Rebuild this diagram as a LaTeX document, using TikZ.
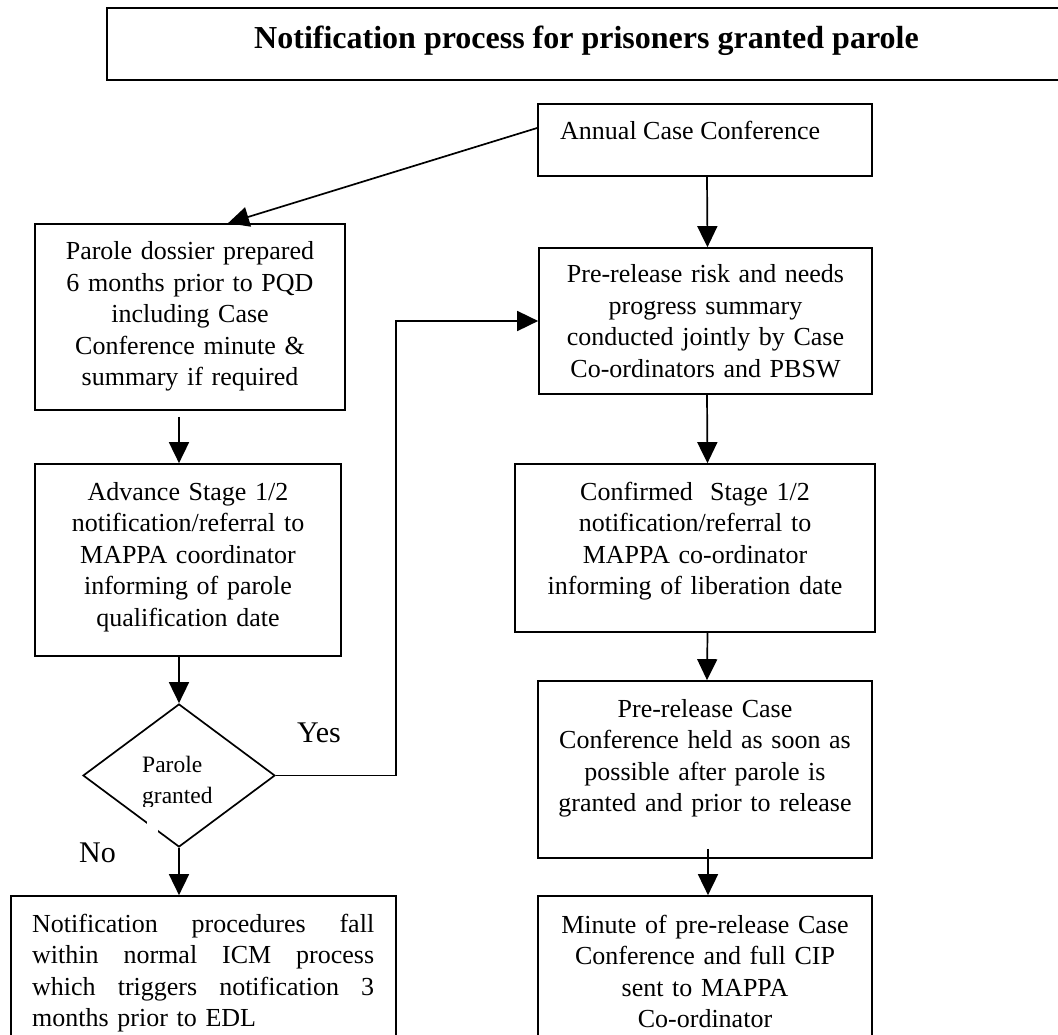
\documentclass[tikz,border=0pt]{standalone}
\usepackage{fontspec}
\setmainfont{Liberation Serif}
\usetikzlibrary{arrows.meta,shapes.geometric}

\tikzset{
  box/.style={draw, line width=1.7pt, inner sep=0pt, rectangle},
  titlebox/.style={draw, line width=2.4pt, inner sep=0pt, rectangle},
  txt/.style={font=\fontsize{26}{31.5}\selectfont, align=center, inner sep=0pt, anchor=base},
  arr/.style={line width=1.7pt, -{Triangle[length=21pt,width=20pt]}},
  answer/.style={font=\fontsize{30}{34}\selectfont, inner sep=0pt, anchor=base west}
}
% one justified line of the given width
\newcommand{\fullline}[1]{\leavevmode\hbox to 342pt{#1}}

\begin{document}
\begin{tikzpicture}[x=1pt,y=-1pt]
\useasboundingbox (0,0) rectangle (1058,1035);
\clip (0,0) rectangle (1058,1035);

% title banner
\node[titlebox, minimum width=959pt, minimum height=72pt] (title) at (586.5,44) {};
\node[font=\bfseries\fontsize{32}{38}\selectfont, inner sep=0pt, anchor=base] (titletxt) at (586.5,49)
  {Notification process for prisoners granted parole};

% boxes
\node[box, minimum width=334pt, minimum height=72pt]  (ann)  at (705,140) {};
\node[box, minimum width=310pt, minimum height=186pt] (dos)  at (190,317) {};
\node[box, minimum width=333pt, minimum height=146pt] (pre)  at (705.5,321) {};
\node[box, minimum width=306pt, minimum height=192pt] (adv)  at (188,560) {};
\node[box, minimum width=360pt, minimum height=168pt] (conf) at (695,548) {};
\node[box, minimum width=334pt, minimum height=177pt] (pc)   at (705,769.5) {};
\node[box, minimum width=334pt, minimum height=164pt] (mins) at (705,978) {};
\node[box, minimum width=385pt, minimum height=164pt] (icm)  at (203.5,978) {};

% decision
\node[draw, diamond, line width=1.7pt, minimum width=192pt, minimum height=143pt, inner sep=0pt] (dec) at (179,775.5) {};
\fill[white] (147,816) rectangle (158,834);
\begin{scope}
  \clip (130,740) rectangle (230,806);
  \node[font=\fontsize{23.5}{31}\selectfont, align=left, text width=80pt, inner sep=0pt, anchor=base west] (dectxt) at (142,772)
    {Parole\\granted};
\end{scope}

% box texts
\node[font=\fontsize{26}{31.5}\selectfont, inner sep=0pt, anchor=base west] (anntxt) at (560,140) {Annual Case Conference};
\node[txt, text width=310pt] (dostxt) at (190,260)
  {Parole dossier prepared\\6 months prior to PQD\\including Case\\Conference minute \&\\summary if required};
\node[txt, text width=333pt] (pretxt) at (705.5,283)
  {Pre-release risk and needs\\progress summary\\conducted jointly by Case\\Co-ordinators and PBSW};
\node[txt, text width=306pt] (advtxt) at (188,500)
  {Advance Stage 1/2\\notification/referral to\\MAPPA coordinator\\informing of parole\\qualification date};
\node[txt, text width=360pt] (conftxt) at (695,500)
  {Confirmed\ \ Stage 1/2\\notification/referral to\\MAPPA co-ordinator\\informing of liberation date};
\node[txt, text width=334pt] (pctxt) at (705,717)
  {Pre-release Case\\Conference held as soon as\\possible after parole is\\granted and prior to release};
\node[txt, text width=334pt] (minstxt) at (705,933)
  {Minute of pre-release Case\\Conference and full CIP\\sent to MAPPA\\Co-ordinator};
\node[txt, text width=342pt, align=left, anchor=base west] (icmtxt) at (32,932)
  {\fullline{Notification\hfill procedures\hfill fall}\\
   \fullline{within\hfill normal\hfill ICM\hfill process}\\
   \fullline{which\hfill triggers\hfill notification\hfill 3}\\
   months prior to EDL};

% answers
\node[answer] (yes) at (297,742) {Yes};
\node[answer] (no)  at (79,862)  {No};

% connectors
\coordinate (yescol) at (396,0);
\draw[arr] ([yshift=12pt]ann.west) -- ([xshift=38pt]dos.north);
\draw[arr] ([xshift=2pt]ann.south) -- ([xshift=2pt]pre.north);
\draw[arr] ([yshift=-6pt]dos.south -| dec.north) -- (adv.north -| dec.north);
\draw[arr] (adv.south -| dec.north) -- (dec.north);
\draw[arr] (dec.south) -- (icm.north -| dec.south);
\draw[arr] (dec.east) -- (dec.east -| yescol) |- (pre.west);
\draw[arr] ([xshift=1.5pt]pre.south) -- ([xshift=12.5pt]conf.north);
\draw[arr] ([xshift=12.5pt]conf.south) -- ([xshift=2pt]pc.north);
\draw[arr] ([xshift=3pt,yshift=10pt]pc.south) -- ([xshift=3pt]mins.north);
\end{tikzpicture}
\end{document}
